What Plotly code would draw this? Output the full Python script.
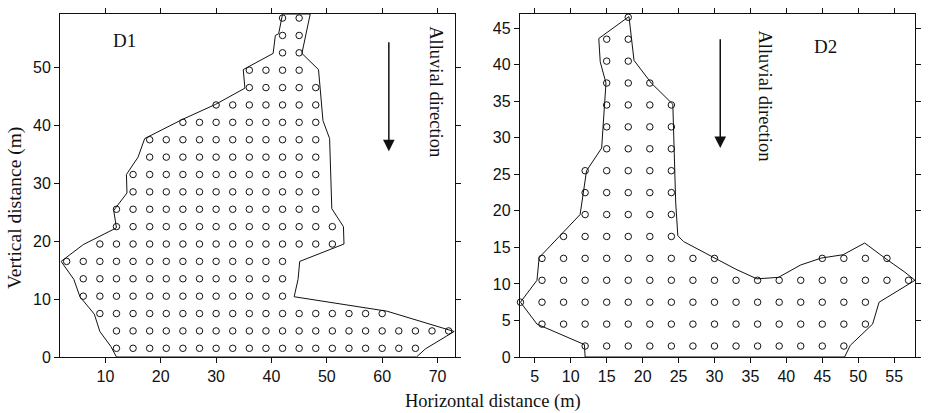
import plotly.graph_objects as go

# ---------------- D1 data ----------------
d1_row_y = [1.5, 4.5, 7.5, 10.5, 13.5, 16.5, 19.5, 22.5, 25.5, 28.5,
            31.5, 34.5, 37.5, 40.5, 43.5, 46.5, 49.5, 52.5, 55.5, 58.5]
d1_row_x = [
    [12, 15, 18, 21, 24, 27, 30, 33, 36, 39, 42, 45, 48, 51, 54, 57, 60, 63, 66],
    [12, 15, 18, 21, 24, 27, 30, 33, 36, 39, 42, 45, 48, 51, 54, 57, 60, 63, 66, 69, 72],
    [9, 12, 15, 18, 21, 24, 27, 30, 33, 36, 39, 42, 45, 48, 51, 54, 57, 60],
    [6, 9, 12, 15, 18, 21, 24, 27, 30, 33, 36, 39, 42],
    [6, 9, 12, 15, 18, 21, 24, 27, 30, 33, 36, 39, 42],
    [3, 6, 9, 12, 15, 18, 21, 24, 27, 30, 33, 36, 39, 42],
    [9, 12, 15, 18, 21, 24, 27, 30, 33, 36, 39, 42, 45, 48, 51],
    [12, 15, 18, 21, 24, 27, 30, 33, 36, 39, 42, 45, 48, 51],
    [12, 15, 18, 21, 24, 27, 30, 33, 36, 39, 42, 45, 48],
    [15, 18, 21, 24, 27, 30, 33, 36, 39, 42, 45, 48],
    [15, 18, 21, 24, 27, 30, 33, 36, 39, 42, 45, 48],
    [18, 21, 24, 27, 30, 33, 36, 39, 42, 45, 48],
    [18, 21, 24, 27, 30, 33, 36, 39, 42, 45, 48],
    [24, 27, 30, 33, 36, 39, 42, 45, 48],
    [30, 33, 36, 39, 42, 45, 48],
    [36, 39, 42, 45, 48],
    [36, 39, 42, 45],
    [42, 45],
    [42, 45],
    [42, 45],
]
d1_outline_x = [12, 11, 9, 8, 5.4, 4.3, 2, 6, 12, 11.5, 13.9, 13.8, 15.9, 17.1,
                23.9, 29.9, 35.2, 34.9, 40.3, 40.7, 41.3, 41.8, 42,
                47, 46.1, 45.5, 48.5, 48.8, 49.0, 49.3, 50.5, 50.9, 53, 53.1,
                45.1, 44.8, 44.1, 60.9, 73.0, 67.8, 66.2, 12]
d1_outline_y = [0, 1.8, 4.4, 7.4, 10.4, 13.4, 16.5, 19.4, 22.3, 25.3, 28.3, 31.5, 34.5, 37.7,
                41.0, 43.6, 46.4, 49.6, 52.4, 55.5, 55.8, 58.4, 59.2,
                59.2, 55.3, 52.4, 49.6, 46.4, 43.3, 40.8, 37.7, 25.6, 22.5, 19.5,
                16.5, 13.4, 10.4, 7.9, 4.4, 1.4, 0, 0]

# ---------------- D2 data ----------------
d2_row_y = [1.5, 4.5, 7.5, 10.5, 13.5, 16.5, 19.5, 22.5, 25.5, 28.5,
            31.5, 34.5, 37.5, 40.5, 43.5, 46.5]
d2_row_x = [
    [12, 15, 18, 21, 24, 27, 30, 33, 36, 39, 42, 45, 48],
    [6, 9, 12, 15, 18, 21, 24, 27, 30, 33, 36, 39, 42, 45, 48, 51],
    [3, 6, 9, 12, 15, 18, 21, 24, 27, 30, 33, 36, 39, 42, 45, 48, 51],
    [6, 9, 12, 15, 18, 21, 24, 27, 30, 33, 36, 39, 42, 45, 48, 51, 54, 57],
    [6, 9, 12, 15, 18, 21, 24, 27, 30, 45, 48, 51, 54],
    [9, 12, 15, 18, 21, 24],
    [12, 15, 18, 21, 24],
    [12, 15, 18, 21, 24],
    [12, 15, 18, 21, 24],
    [15, 18, 21, 24],
    [15, 18, 21, 24],
    [15, 18, 21, 24],
    [15, 18, 21],
    [15, 18],
    [15, 18],
    [18],
]
d2_outline_x = [12, 11.9, 5.3, 3.0, 5.3, 5.6, 11.3, 11.8, 12.2, 14.3, 14.9, 14.1, 13.9,
                18.1, 18.8, 21.2, 24.2, 24.6, 24.9, 25.7, 30, 33, 35.9, 38.9, 42,
                44.9, 47.9, 50.9, 53.7, 56.5, 57.9, 52.9, 52.0, 48.9, 48.1, 12]
d2_outline_y = [0, 1.7, 4.5, 7.5, 10.5, 13.6, 19.5, 22.6, 25.5, 28.6, 37.5, 40.4, 43.6,
                46.6, 40.6, 37.5, 34.6, 21.2, 16.6, 15.8, 13.55, 12, 10.7, 10.9, 12.6,
                13.55, 14.0, 15.6, 13.55, 11.6, 10.5, 7.5, 4.5, 1.6, 0, 0]

d1_xticks = [10, 20, 30, 40, 50, 60, 70]
d1_yticks = [0, 10, 20, 30, 40, 50]
d2_xticks = [5, 10, 15, 20, 25, 30, 35, 40, 45, 50, 55]
d2_yticks = [0, 5, 10, 15, 20, 25, 30, 35, 40, 45]


def flatten(row_y, row_x):
    xs, ys = [], []
    for y, xr in zip(row_y, row_x):
        for x in xr:
            xs.append(x)
            ys.append(y)
    return xs, ys


fig = go.Figure()
marker = dict(symbol="circle-open", size=6.5, color="#111", line=dict(width=1, color="#111"))
line = dict(color="#111", width=1)

x1, y1 = flatten(d1_row_y, d1_row_x)
x2, y2 = flatten(d2_row_y, d2_row_x)

fig.add_trace(go.Scatter(x=d1_outline_x, y=d1_outline_y, mode="lines", line=line,
                         xaxis="x", yaxis="y", showlegend=False, hoverinfo="skip"))
fig.add_trace(go.Scatter(x=x1, y=y1, mode="markers", marker=marker,
                         xaxis="x", yaxis="y", showlegend=False, cliponaxis=False))
fig.add_trace(go.Scatter(x=d2_outline_x, y=d2_outline_y, mode="lines", line=line,
                         xaxis="x2", yaxis="y2", showlegend=False, hoverinfo="skip"))
fig.add_trace(go.Scatter(x=x2, y=y2, mode="markers", marker=marker,
                         xaxis="x2", yaxis="y2", showlegend=False, cliponaxis=False))

tickfont = dict(family="Liberation Sans, Arial, sans-serif", size=16, color="#111")
axis_common = dict(showline=True, linecolor="#111", linewidth=1, mirror="ticks",
                   ticks="outside", ticklen=5, tickwidth=1, tickcolor="#111",
                   showgrid=False, zeroline=False, tickfont=tickfont)

fig.update_layout(
    width=929, height=413,
    margin=dict(l=60, r=8, t=10, b=56),
    paper_bgcolor="white", plot_bgcolor="white",
    xaxis=dict(domain=[0, 0.4623], range=[1.8, 73.2], tickvals=d1_xticks, anchor="y", **axis_common),
    yaxis=dict(domain=[0, 1], range=[0, 59.2], tickvals=d1_yticks, anchor="x", **axis_common),
    xaxis2=dict(domain=[0.5377, 1], range=[2.9, 57.9], tickvals=d2_xticks, anchor="y2", **axis_common),
    yaxis2=dict(domain=[0, 1], range=[0, 46.95], tickvals=d2_yticks, anchor="x2", **axis_common),
)

serif = "Liberation Serif, Times New Roman, serif"
ann = []
ann.append(dict(x=13.5, y=54.6, xref="x", yref="y", text="D1", showarrow=False,
                font=dict(family=serif, size=19, color="#111")))
ann.append(dict(x=45.5, y=42.5, xref="x2", yref="y2", text="D2", showarrow=False,
                font=dict(family=serif, size=19, color="#111")))
ann.append(dict(x=69.8, y=45.8, xref="x", yref="y", text="Alluvial direction", textangle=90,
                showarrow=False, font=dict(family=serif, size=18.5, color="#111")))
ann.append(dict(x=37, y=35.7, xref="x2", yref="y2", text="Alluvial direction", textangle=90,
                showarrow=False, font=dict(family=serif, size=18.5, color="#111")))
ann.append(dict(x=61.2, y=35.5, ax=61.2, ay=54.6, xref="x", yref="y", axref="x", ayref="y",
                text="", showarrow=True, arrowhead=2, arrowsize=1.55, arrowwidth=1.5,
                arrowcolor="#111", standoff=0))
ann.append(dict(x=30.8, y=28.6, ax=30.8, ay=43.7, xref="x2", yref="y2", axref="x2", ayref="y2",
                text="", showarrow=True, arrowhead=2, arrowsize=1.55, arrowwidth=1.5,
                arrowcolor="#111", standoff=0))
ann.append(dict(x=0.507, y=-0.129, xref="paper", yref="paper", text="Horizontal distance (m)",
                showarrow=False, yanchor="middle", xanchor="center",
                font=dict(family=serif, size=18.5, color="#111")))
ann.append(dict(x=-0.0523, y=0.435, xref="paper", yref="paper", text="Vertical distance (m)",
                showarrow=False, textangle=-90, xanchor="center", yanchor="middle",
                font=dict(family=serif, size=19.5, color="#111")))
fig.update_layout(annotations=ann)

fig.write_html("out.html", config={"displayModeBar": False},
               post_script="document.body.style.margin='0px';document.body.style.overflow='hidden';")
